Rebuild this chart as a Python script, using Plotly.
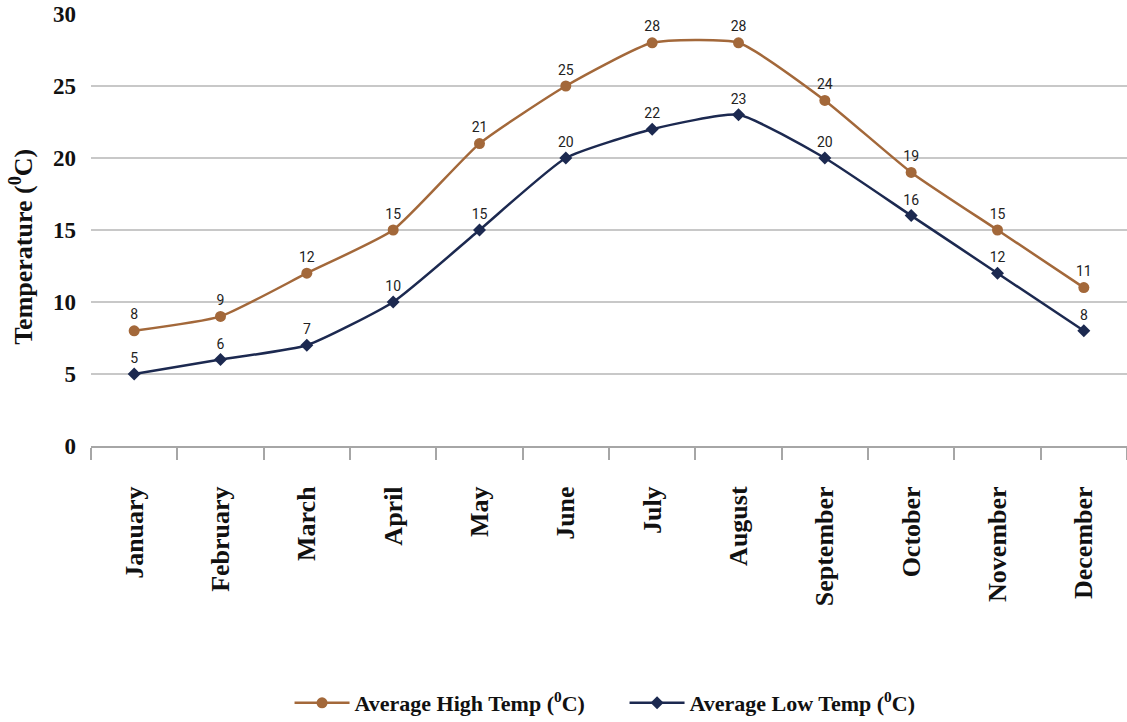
import plotly.graph_objects as go

months = ["January", "February", "March", "April", "May", "June",
          "July", "August", "September", "October", "November", "December"]
avg_high = [8, 9, 12, 15, 21, 25, 28, 28, 24, 19, 15, 11]
avg_low = [5, 6, 7, 10, 15, 20, 22, 23, 20, 16, 12, 8]

HIGH_COLOR = "#A3683A"
LOW_COLOR = "#1C2950"
SERIF = "Liberation Serif, Times New Roman, serif"
LABEL_FONT = dict(family="Liberation Sans Narrow, Roboto, Liberation Sans, sans-serif",
                  size=14, color="#222222")

fig = go.Figure()

fig.add_trace(go.Scatter(
    x=months, y=avg_high, name="Average High Temp (<sup>0</sup>C)",
    mode="lines+markers+text", text=[str(v) for v in avg_high],
    textposition="top center", textfont=LABEL_FONT,
    line=dict(color=HIGH_COLOR, width=2.5, shape="spline", smoothing=0.5),
    marker=dict(symbol="circle", size=11, color=HIGH_COLOR),
))

fig.add_trace(go.Scatter(
    x=months, y=avg_low, name="Average Low Temp (<sup>0</sup>C)",
    mode="lines+markers+text", text=[str(v) for v in avg_low],
    textposition="top center", textfont=LABEL_FONT,
    line=dict(color=LOW_COLOR, width=2.5, shape="spline", smoothing=0.5),
    marker=dict(symbol="diamond", size=10, color=LOW_COLOR),
))

# Vertical axis title, placed a little below the plot's mid-height
fig.add_annotation(
    text="Temperature (<sup>0</sup>C)", textangle=-90,
    xref="paper", yref="paper", x=-0.067, y=0.46,
    xanchor="center", yanchor="middle", showarrow=False,
    font=dict(family=SERIF, size=26, color="#111111", weight="bold"),
)

fig.update_layout(
    width=1127, height=722,
    margin=dict(l=91, r=0, t=14, b=276, autoexpand=False),
    plot_bgcolor="white", paper_bgcolor="white",
    showlegend=True,
    legend=dict(orientation="h", x=0.515, xanchor="center", y=-0.595, yanchor="middle",
                font=dict(family=SERIF, size=22, color="#111111", weight="bold"),
                itemwidth=55, tracegroupgap=0, entrywidthmode="pixels", entrywidth=265),
    xaxis=dict(
        type="category", range=[-0.5, 11.5],
        tickangle=-90, ticks="outside", tickson="boundaries", ticklen=12,
        tickcolor="#A6A6A6", tickwidth=1.5,
        showline=True, linecolor="#A6A6A6", linewidth=2,
        showgrid=False, ticklabelstandoff=28,
        tickfont=dict(family=SERIF, size=26, color="#111111", weight="bold"),
    ),
    yaxis=dict(
        range=[0, 30], dtick=5, showgrid=True, gridcolor="#C8C8C8", gridwidth=1.5,
        zeroline=False, showline=False, ticks="",
        tickfont=dict(family=SERIF, size=23, color="#111111", weight="bold"),
        ticklabelstandoff=14,
        automargin=False,
    ),
)

fig.write_html("out.html")
